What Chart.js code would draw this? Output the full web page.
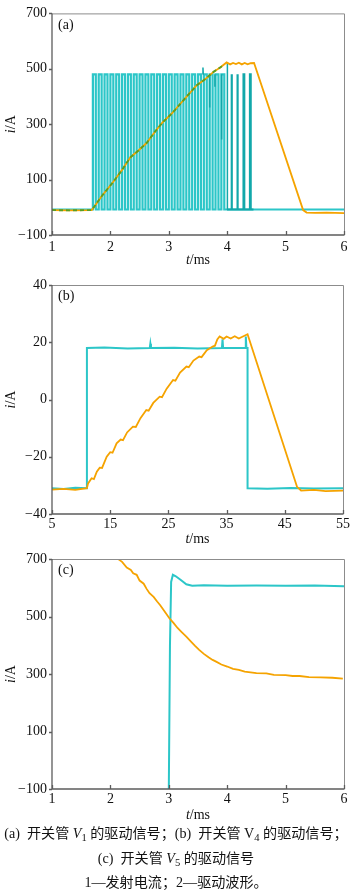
<!DOCTYPE html>
<html><head><meta charset="utf-8">
<script src="https://cdn.jsdelivr.net/npm/chart.js@4.4.0/dist/chart.umd.min.js"></script>
<style>
body{margin:0;background:#fff;width:352px;height:896px;overflow:hidden;position:relative;font-family:'Liberation Serif','Noto Sans CJK SC',serif;}
.pan{position:absolute;left:0;width:352px}
#cap{position:absolute;left:0;top:821px;width:352px;text-align:center;font-size:14.1px;line-height:24.5px;color:#111;white-space:nowrap}
#cap sub{font-size:75%;vertical-align:-0.25em;line-height:0}
</style></head><body>
<div class="pan" style="top:0;height:270px"><canvas id="ca" width="352" height="270"></canvas></div>
<div class="pan" style="top:270px;height:280px"><canvas id="cb" width="352" height="280"></canvas></div>
<div class="pan" style="top:540px;height:280px"><canvas id="cc" width="352" height="280"></canvas></div>
<div id="cap">
  <div>(a)&nbsp; 开关管 <i>V</i><sub>1</sub> 的驱动信号；(b)&nbsp; 开关管 V<sub>4</sub> 的驱动信号；</div>
  <div>(c)&nbsp; 开关管 <i>V</i><sub>5</sub> 的驱动信号</div>
  <div>1—发射电流；2—驱动波形。</div>
</div>
<script>
/* Drive signal waveforms — three oscilloscope panels */

/* ── tick labels ── */
var aXTicks=[1,2,3,4,5,6];
var aYTicks=[-100,100,300,500,700];
var bXTicks=[5,15,25,35,45,55];
var bYTicks=[-40,-20,0,20,40];

/* ── (a) emission current (orange) ── */
var aOrangeT=[1.00,1.30,1.68,1.70,1.85,2.05,2.20,2.34,2.48,2.62,2.76,2.90,3.05,3.19,3.34,3.48,3.62,3.76,3.88,3.99,4.05,4.10,4.15,4.20,4.25,4.30,4.35,4.40,4.46,5.30,5.36,5.50,5.70,6.00];
var aOrangeV=[-10,-11,-10,-5,40,92,135,180,205,232,272,308,338,372,408,441,462,488,505,523,516,521,517,522,516,521,516,520,521,-10,-19,-20,-19,-21];
/* green trace overlaid on the ramp */
var aGreenT=[1.00,1.30,1.68,1.70,1.85,2.05,2.20,2.34,2.48,2.62,2.76,2.90,3.05,3.19,3.34,3.48,3.62,3.76,3.88,3.95];
var aGreenV=[-10,-11,-10,-5,40,92,135,180,205,232,272,308,338,372,408,441,462,488,505,515];
/* drive pulses (cyan): rising edges */
var aPulseStart=[1.70,1.80,1.90,2.00,2.10,2.20,2.30,2.40,2.50,2.60,2.70,2.80,2.90,3.00,3.10,3.20,3.30,3.40,3.50,3.60,3.70,3.80,3.90];
var aPulseWidth=0.05, aPulseLow=-8, aPulseHigh=480;
/* glitches on the pulse train */
var aGlitchT=[3.58,3.585,3.59,3.59,3.70,3.70,3.70,3.79,3.79,3.79,3.905,3.905,3.905,4.00,4.00,4.005,4.005];
var aGlitchV=[480,505,480,null,480,360,null,480,435,null,480,245,null,-8,522,522,-8];
/* late narrow pulses (dark teal) */
var aLateStart=[4.07,4.17,4.28,4.39];
var aLateWidth=0.012;

/* ── (b) ── */
var bOrangeT=[5,7,9,11.0,11.2,11.8,12.2,12.7,13.2,13.6,14.4,15.0,15.4,16.1,16.8,17.2,17.9,18.9,19.4,20.2,21.2,21.6,22.4,23.5,23.9,24.7,25.8,26.2,27.0,28.1,28.5,29.3,30.3,30.7,31.6,32.6,33.0,33.4,33.8,34.5,35.0,35.7,36.4,37.1,37.8,38.6,47.1,47.8,50,52,55];
var bOrangeV=[-31.5,-31.2,-31.6,-31,-29.3,-27.5,-27.8,-25.2,-23.8,-23.9,-20,-18.4,-18.6,-15.3,-14,-14.2,-11.5,-9.5,-9.6,-6.5,-3.7,-3.9,-1.2,1,0.8,3.8,6.8,6.6,9.4,11.5,11.3,13.6,15,14.8,17.2,18.5,18.8,21,22,21.2,22,21.3,22.1,21.3,22,22.8,-30.5,-31.8,-31.6,-32,-31.8];
var bCyanT=[5,7,9,11,11,14,18,21.8,21.9,22,26,30,34.2,34.3,34.4,38.2,38.3,38.4,38.6,38.6,42,46,50,55];
var bCyanV=[-31,-31.3,-30.8,-31,18,18.2,17.8,18,19.5,18,18.1,17.8,18,21,18,18,22,18,18,-31,-31.2,-30.9,-31.1,-31];

/* ── (c) ── */
var cOrangeT=[2.10,2.13,2.20,2.28,2.35,2.39,2.45,2.50,2.57,2.62,2.67,2.74,2.80,2.85,2.92,3.01,3.08,3.15,3.22,3.30,3.38,3.45,3.52,3.60,3.68,3.75,3.81,3.90,4.00,4.10,4.20,4.30,4.40,4.50,4.67,4.80,5.00,5.12,5.24,5.40,5.60,5.80,5.98];
var cOrangeV=[712,700,690,670,662,650,645,625,614,596,581,568,552,540,520,494,478,460,446,430,413,398,384,370,358,349,343,333,326,318,314,308,306,303,302,297,296,293,293,289,288,287,284];
var cCyanT=[3.00,3.02,3.04,3.07,3.12,3.20,3.30,3.40,3.60,4.00,4.50,5.00,5.50,6.00];
var cCyanV=[-110,400,620,645,640,628,612,607,609,607,608,607,608,605];

var FONT="'Liberation Serif', 'Times New Roman', serif";
var FS=14;
var ORANGE='#F5A300', CYAN='#2CC6C8', TEAL='#12A8AA', GREEN='#5A9E22';

function pts(T,V){ return T.map(function(t,i){ return {x:t,y:V[i]}; }); }

function squareWave(starts,w,lo,hi,t0,t1){
  var p=[{x:t0,y:lo}];
  starts.forEach(function(s){ p.push({x:s,y:lo},{x:s,y:hi},{x:s+w,y:hi},{x:s+w,y:lo}); });
  p.push({x:t1,y:lo});
  return p;
}

function ds(data,color,w,dash){
  return {data:data,borderColor:color,borderWidth:w||1.6,pointRadius:0,tension:0,fill:false,borderDash:dash||[],spanGaps:false};
}

function fmt(v){ return v<0 ? '\u2212'+Math.abs(v) : ''+v; }

function drawParts(c,parts,x,y){
  var total=0;
  parts.forEach(function(p){ c.font=p[1]+' '+FS+'px '+FONT; total+=c.measureText(p[0]).width; });
  var cx=x-total/2;
  parts.forEach(function(p){ c.font=p[1]+' '+FS+'px '+FONT; c.fillText(p[0],cx,y); cx+=c.measureText(p[0]).width; });
}

// frame, inward x ticks, outward y ticks, axis titles and panel tag
var framePlugin={
  id:'frame',
  afterDraw:function(chart,args,o){
    var a=chart.chartArea, c=chart.ctx, xs=chart.scales.x, ys=chart.scales.y;
    c.save();
    c.lineWidth=1;
    c.strokeStyle='#8c8c8c';
    c.beginPath(); c.moveTo(a.left,a.top+0.5); c.lineTo(a.right+0.5,a.top+0.5); c.lineTo(a.right+0.5,a.bottom); c.stroke();
    c.lineWidth=1.3;
    c.strokeStyle='#5c5c5c';
    c.beginPath(); c.moveTo(a.left,a.top); c.lineTo(a.left,a.bottom); c.lineTo(a.right+0.5,a.bottom); c.stroke();
    c.beginPath();
    xs.ticks.forEach(function(t){ var px=Math.round(xs.getPixelForValue(t.value))+0.5; c.moveTo(px,a.bottom); c.lineTo(px,a.bottom-4); });
    ys.ticks.forEach(function(t){ var py=Math.round(ys.getPixelForValue(t.value))+0.5; c.moveTo(a.left-3,py); c.lineTo(a.left,py); });
    c.stroke();
    c.fillStyle='#111';
    c.textBaseline='middle'; c.textAlign='left';
    drawParts(c,[['t','italic'],['/ms','normal']],(a.left+a.right)/2,o.xTitleY);
    c.save();
    c.translate(11,(a.top+a.bottom)/2); c.rotate(-Math.PI/2);
    drawParts(c,[['i','italic'],['/A','normal']],0,0);
    c.restore();
    c.font=FS+'px '+FONT;
    c.fillText(o.tag,a.left+6,a.top+11.5);
    c.restore();
  }
};

function opts(o){
  return {
    responsive:false, animation:false, events:[],
    layout:{padding:{left:0,right:8,top:o.top,bottom:0}},
    plugins:{legend:{display:false},tooltip:{enabled:false},frame:{tag:o.tag,xTitleY:o.xTitleY}},
    scales:{
      x:{type:'linear',min:o.xmin,max:o.xmax,
        afterBuildTicks:function(s){ s.ticks=o.xt.map(function(v){return {value:v};}); },
        afterFit:function(s){ s.height=o.xh; },
        ticks:{font:{family:FONT,size:FS},color:'#111',padding:o.xpad,maxRotation:0,autoSkip:false,callback:fmt},
        grid:{display:false,drawTicks:false},border:{display:false}},
      y:{type:'linear',min:o.ymin,max:o.ymax,
        afterBuildTicks:function(s){ s.ticks=o.yt.map(function(v){return {value:v};}); },
        afterFit:function(s){ s.width=52; },
        ticks:{font:{family:FONT,size:FS},color:'#111',padding:5,autoSkip:false,callback:fmt},
        grid:{display:false,drawTicks:false},border:{display:false}}
    }
  };
}

new Chart(document.getElementById('ca'),{
  type:'line',
  data:{datasets:[
    ds(pts(aGreenT,aGreenV),GREEN,1.9,[4,3]),
    ds(pts(aOrangeT,aOrangeV),ORANGE,1.8),
    ds(pts(aGlitchT,aGlitchV),TEAL,1.5),
    ds(squareWave(aLateStart,aLateWidth,aPulseLow,aPulseHigh,4.0,4.45),TEAL,2.2),
    ds(squareWave(aPulseStart,aPulseWidth,aPulseLow,aPulseHigh,1.0,6.0),CYAN,2.2)
  ]},
  options:opts({tag:'(a)',top:6,xh:35,xpad:4,xTitleY:260,xmin:1,xmax:6,ymin:-100,ymax:700,xt:aXTicks,yt:aYTicks}),
  plugins:[framePlugin]
});

new Chart(document.getElementById('cb'),{
  type:'line',
  data:{datasets:[
    ds(pts(bOrangeT,bOrangeV),ORANGE,1.8),
    ds(pts(bCyanT,bCyanV),CYAN,2)
  ]},
  options:opts({tag:'(b)',top:15,xh:36,xpad:2,xTitleY:269,xmin:5,xmax:55,ymin:-40,ymax:40,xt:bXTicks,yt:bYTicks}),
  plugins:[framePlugin]
});

new Chart(document.getElementById('cc'),{
  type:'line',
  data:{datasets:[
    ds(pts(cOrangeT,cOrangeV),ORANGE,1.8),
    ds(pts(cCyanT,cCyanV),CYAN,2)
  ]},
  options:opts({tag:'(c)',top:19,xh:31,xpad:2,xTitleY:275,xmin:1,xmax:6,ymin:-100,ymax:700,xt:aXTicks,yt:aYTicks}),
  plugins:[framePlugin]
});
</script>
</body></html>
